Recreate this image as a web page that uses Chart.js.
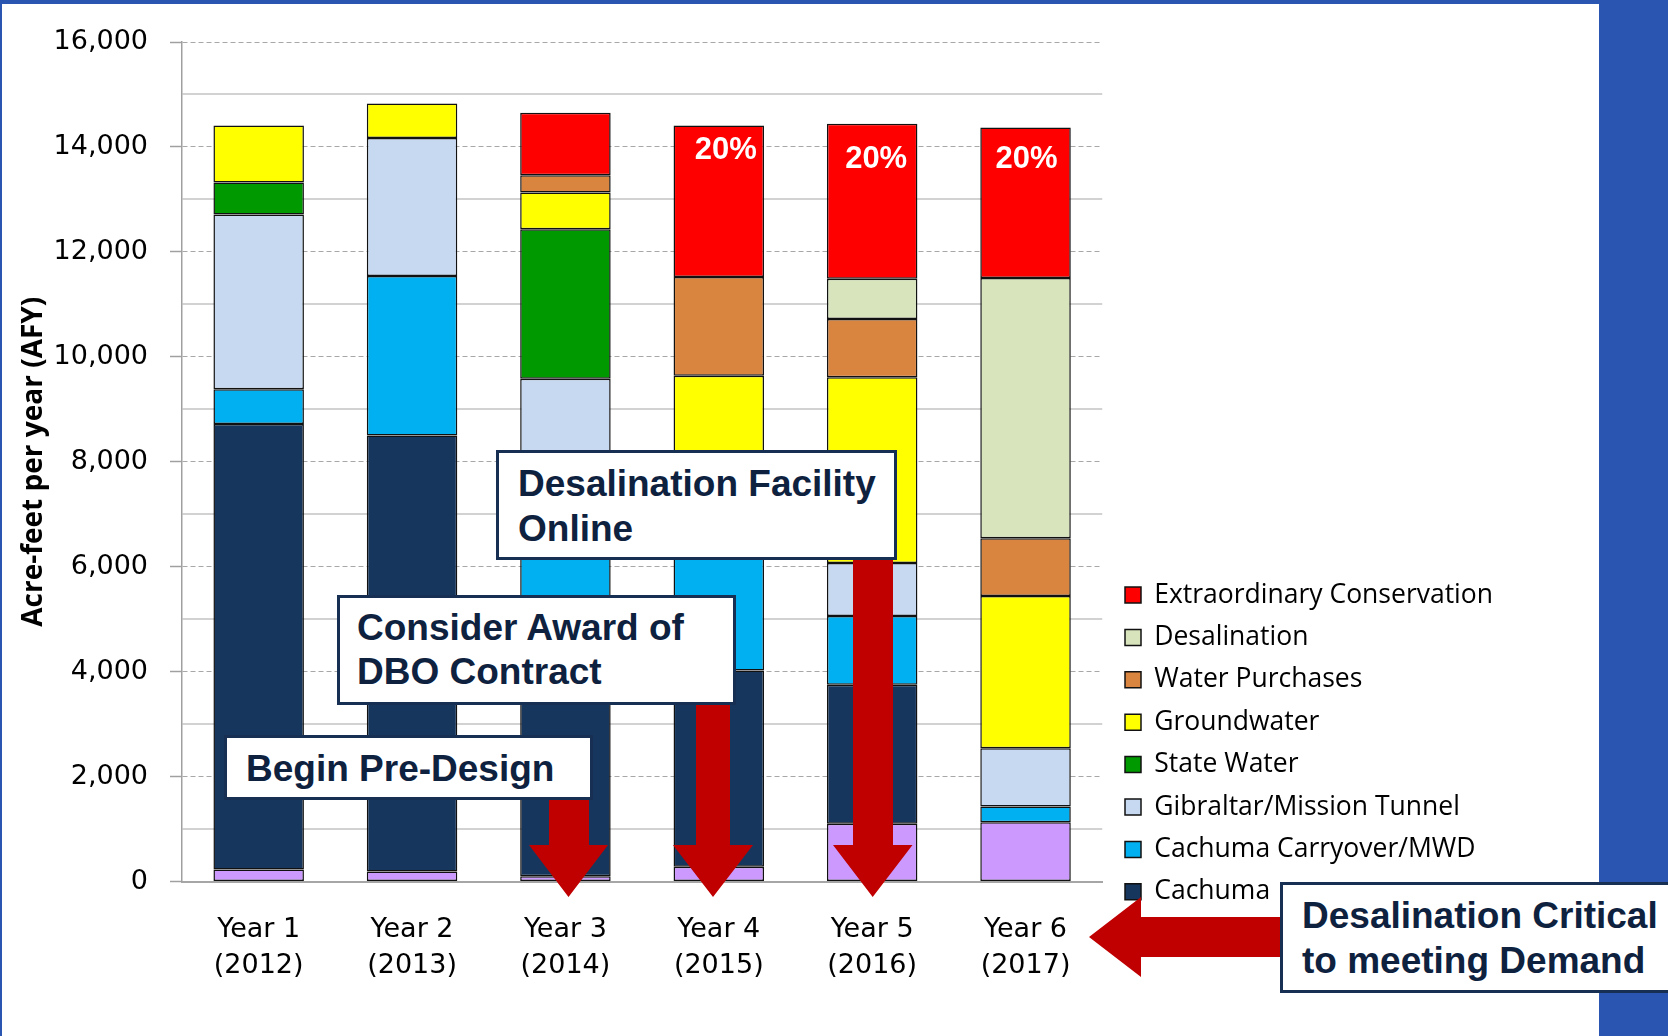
<!DOCTYPE html>
<html>
<head>
<meta charset="utf-8">
<script src="https://cdn.jsdelivr.net/npm/chart.js@4.4.1/dist/chart.umd.min.js"></script>
<style>
html,body{margin:0;padding:0;background:#fff;}
#page{position:relative;width:1668px;height:1036px;overflow:hidden;background:#fff;}
.band{position:absolute;background:#2a55b0;}
#chart{position:absolute;left:0;top:0;}
#arrows{position:absolute;left:0;top:0;}
.note{position:absolute;box-sizing:border-box;background:#fff;border:3px solid #162f52;color:#0e2240;
  font-family:"Liberation Sans",Arial,sans-serif;font-weight:bold;font-size:37px;line-height:44px;white-space:nowrap;}
</style>
</head>
<body>
<div id="page">
  <div class="band" style="left:0;top:0;width:1668px;height:4px;"></div>
  <div class="band" style="left:0;top:0;width:2px;height:1036px;"></div>
  <div class="band" style="left:1599px;top:0;width:69px;height:1036px;"></div>
  <canvas id="chart" width="1668" height="1036"></canvas>
  <svg id="arrows" width="1668" height="1036">
    <polygon fill="#c00000" points="549,790 589,790 589,845 608,845 568.5,897 529,845 549,845"/>
    <polygon fill="#c00000" points="696,700 730,700 730,845 753,845 713,897 673,845 696,845"/>
    <polygon fill="#c00000" points="853,555 893,555 893,845 912.5,845 872.7,897 833,845 853,845"/>
    <polygon fill="#c00000" points="1290,917 1141,917 1141,897 1089,937 1141,977 1141,957 1290,957"/>
  </svg>
  <div class="note" style="left:496px;top:450px;width:401px;height:110px;padding:8px 0 0 19px;line-height:45px;">Desalination Facility<br>Online</div>
  <div class="note" style="left:337px;top:595px;width:399px;height:110px;padding:8px 0 0 17px;">Consider Award of<br>DBO Contract</div>
  <div class="note" style="left:224px;top:735px;width:369px;height:65px;padding:9px 0 0 19px;">Begin Pre-Design</div>
  <div class="note" style="left:1280px;top:882px;width:430px;height:111px;padding:8px 0 0 19px;line-height:45px;">Desalination Critical<br>to meeting Demand</div>
</div>
<script>
// ---- data ----
const yearLabels = ['Year 1', 'Year 2', 'Year 3', 'Year 4', 'Year 5', 'Year 6'];
const yearDates  = ['(2012)', '(2013)', '(2014)', '(2015)', '(2016)', '(2017)'];

const recycledWater  = [230, 190, 100, 280, 1100, 1130];
const cachuma        = [8490, 8310, 4300, 3740, 2650, null];
const cachumaCarry   = [660, 3040, 2800, 2980, 1310, 300];
const gibraltar      = [3330, 2630, 2380, null, 1010, 1110];
const stateWater     = [610, null, 2850, null, null, null];
const groundwater    = [1090, 660, 700, 2640, 3540, 2900];
const waterPurchases = [null, null, 330, 1880, 1110, 1100];
const desalination   = [null, null, null, null, 770, 4960];
const conservation   = [null, null, 1190, 2890, 2950, 2870];

const pctLabels = ['', '', '', '20%', '20%', '20%'];

const yMin = 0, yMax = 16000, yMajorStep = 2000, yMinorStep = 1000;

// ---- build ----
const labels = yearLabels.map((y, i) => [y, yearDates[i]]);
const seriesDefs = [
  ['Recycled Water', recycledWater, '#cc99ff'],
  ['Cachuma', cachuma, '#17365d'],
  ['Cachuma Carryover/MWD', cachumaCarry, '#00b0f0'],
  ['Gibraltar/Mission Tunnel', gibraltar, '#c6d9f1'],
  ['State Water', stateWater, '#009900'],
  ['Groundwater', groundwater, '#ffff00'],
  ['Water Purchases', waterPurchases, '#d9843f'],
  ['Desalination', desalination, '#d8e4bc'],
  ['Extraordinary Conservation', conservation, '#ff0000']
];
const datasets = seriesDefs.map(([label, data, color]) => ({
  label, data, backgroundColor: color, borderColor: '#111', borderWidth: 1.5,
  borderSkipped: false, barPercentage: 0.59, categoryPercentage: 1
}));

const PLOT_LEFT = 182, PLOT_RIGHT = 1102, PLOT_BOTTOM = 881.5;
const LEGEND_FONT = 26.5, LEGEND_PAD = 42.4 - 26.5;

const legendPlace = {
  id: 'legendPlace',
  afterLayout(chart) {
    const lg = chart.legend;
    if (!lg) return;
    lg.left = 1125 - LEGEND_PAD; lg.right = 1598;
    lg.top = 595 - LEGEND_PAD - LEGEND_FONT / 2; lg.bottom = 1036;
  }
};

const pctPlugin = {
  id: 'pctPlugin',
  afterDatasetsDraw(chart) {
    const idx = chart.data.datasets.length - 1;
    const meta = chart.getDatasetMeta(idx);
    const offs = [[0, 0], [0, 0], [0, 0], [7, 25], [4, 36], [1, 32]];
    const c = chart.ctx;
    c.save();
    c.font = 'bold 31px "Liberation Sans", Arial, sans-serif';
    c.fillStyle = '#ffffff';
    c.textAlign = 'center';
    c.textBaseline = 'middle';
    pctLabels.forEach((t, i) => {
      if (!t) return;
      const el = meta.data[i];
      c.fillText(t, el.x + offs[i][0], el.y + offs[i][1]);
    });
    c.restore();
  }
};

const isMajor = v => v % yMajorStep === 0;

const chart = new Chart(document.getElementById('chart'), {
  type: 'bar',
  data: { labels, datasets },
  plugins: [legendPlace, pctPlugin],
  options: {
    responsive: false,
    animation: false,
    devicePixelRatio: 1,
    layout: { padding: { left: 0, top: 42, right: 180, bottom: 0 } },
    plugins: {
      tooltip: { enabled: false },
      legend: {
        position: 'right',
        align: 'start',
        reverse: true,
        labels: {
          filter: item => item.text !== 'Recycled Water',
          boxWidth: 16, boxHeight: 16, padding: LEGEND_PAD,
          color: '#000',
          font: { family: '"Open Sans", "Noto Sans", sans-serif', size: LEGEND_FONT }
        }
      }
    },
    scales: {
      x: {
        stacked: true,
        grid: { display: false },
        border: { display: true, color: '#a6a6a6', width: 2 },
        ticks: {
          color: '#000', padding: 22, maxRotation: 0, autoSkip: false,
          font: { family: '"DejaVu Sans", Verdana, sans-serif', size: 27, lineHeight: 1.35 }
        },
        afterFit: s => { s.height = 1036 - PLOT_BOTTOM; }
      },
      y: {
        stacked: true,
        min: yMin, max: yMax,
        afterFit: s => { s.width = PLOT_LEFT; },
        ticks: {
          stepSize: yMinorStep, autoSkip: false, color: '#000', padding: 22,
          font: { family: '"DejaVu Sans", Verdana, sans-serif', size: 27 },
          callback: v => isMajor(v) ? v.toLocaleString('en-US') : ''
        },
        grid: {
          color: c => (c.tick && isMajor(c.tick.value)) ? '#a8a8a8' : '#d2d2d2',
          lineWidth: c => (c.tick && isMajor(c.tick.value)) ? 1 : 2,
          tickColor: c => (c.tick && isMajor(c.tick.value)) ? '#a0a0a0' : 'rgba(0,0,0,0)',
          tickLength: 12, tickWidth: 1.5
        },
        border: {
          display: true, color: '#a0a0a0', width: 1.5,
          dash: c => (c.tick && isMajor(c.tick.value)) ? [5, 3] : []
        },
        title: {
          display: true, text: 'Acre-feet per year (AFY)', color: '#000',
          font: { family: '"Open Sans", Lato, sans-serif', size: 28, weight: 'bold', lineHeight: 1.2 },
          padding: { top: 17, bottom: 0 }
        }
      }
    }
  }
});
for (let k = 0; k < 3; k++) {
  const dx = chart.chartArea.right - PLOT_RIGHT;
  if (Math.abs(dx) < 0.5) break;
  chart.options.layout.padding.right += dx;
  chart.update();
}
</script>
</body>
</html>
